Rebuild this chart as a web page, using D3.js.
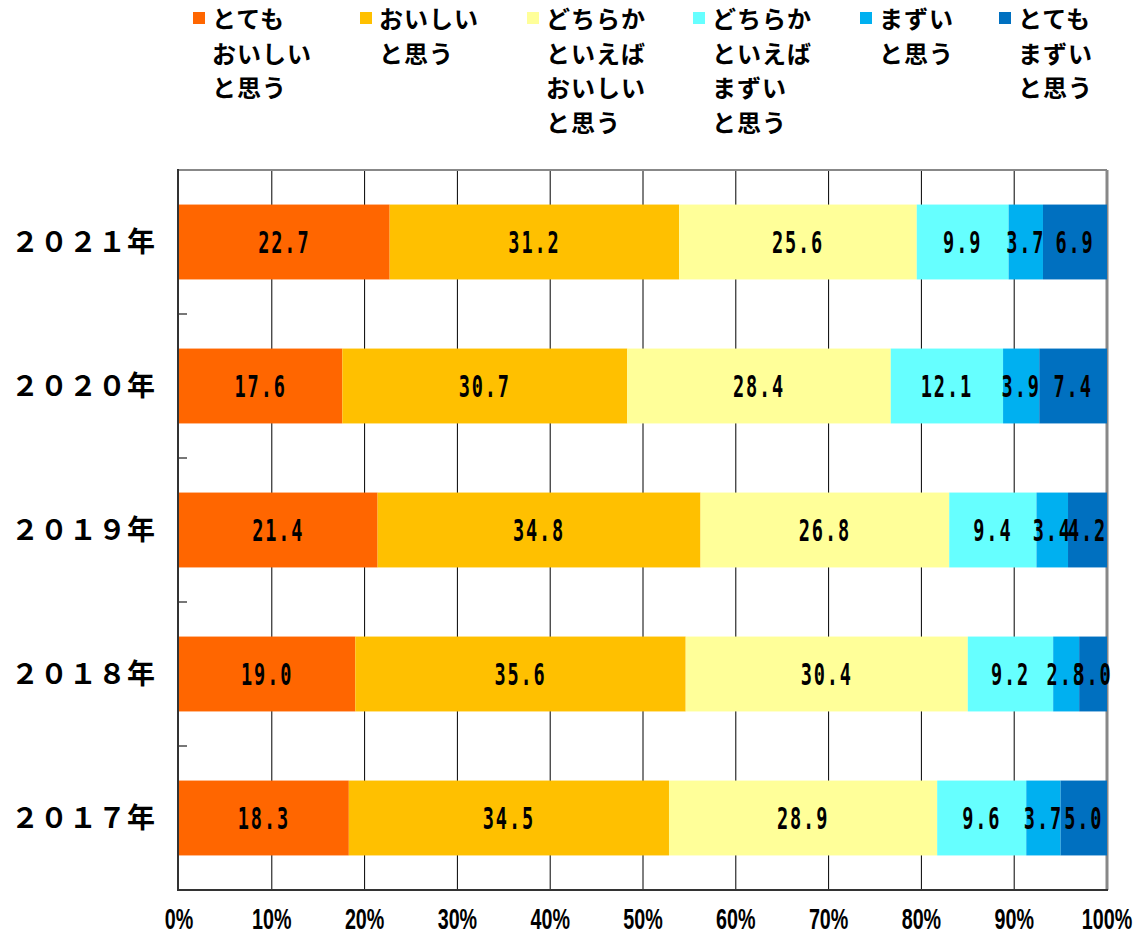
<!DOCTYPE html>
<html>
<head>
<meta charset="utf-8">
<script src="https://cdn.jsdelivr.net/npm/d3@7"></script>
<style>
  html, body { margin: 0; padding: 0; background: #fff; }
  svg { display: block; }
</style>
</head>
<body>
<svg id="chart" width="1135" height="935"></svg>
<script>
// Survey years, top to bottom
const years = ["２０２１年", "２０２０年", "２０１９年", "２０１８年", "２０１７年"];

// Answer categories (legend lines split per row)
const seriesNames = [
  ["とても", "おいしい", "と思う"],
  ["おいしい", "と思う"],
  ["どちらか", "といえば", "おいしい", "と思う"],
  ["どちらか", "といえば", "まずい", "と思う"],
  ["まずい", "と思う"],
  ["とても", "まずい", "と思う"]
];
const seriesColors = ["#FF6600", "#FFC000", "#FFFF99", "#66FFFF", "#00B0F0", "#0070C0"];

// Share of answers (%) per year, one array per category
const veryTasty     = [22.7, 17.6, 21.4, 19.0, 18.3];
const tasty         = [31.2, 30.7, 34.8, 35.6, 34.5];
const ratherTasty   = [25.6, 28.4, 26.8, 30.4, 28.9];
const ratherBad     = [9.9, 12.1, 9.4, 9.2, 9.6];
const bad           = [3.7, 3.9, 3.4, 2.8, 3.7];
const veryBad       = [6.9, 7.4, 4.2, 3.0, 5.0];
const seriesValues = [veryTasty, tasty, ratherTasty, ratherBad, bad, veryBad];

// Axis ticks
const xTicks = [0, 10, 20, 30, 40, 50, 60, 70, 80, 90, 100];
const xTickLabels = ["0%", "10%", "20%", "30%", "40%", "50%", "60%", "70%", "80%", "90%", "100%"];

const svg = d3.select("#chart");
const plot = { left: 179, right: 1107, top: 170, bottom: 890 };

const x = d3.scaleLinear().domain([0, 100]).range([plot.left, plot.right]);
const y = d3.scaleBand().domain(years).range([plot.top, plot.bottom]).paddingInner(0.48).paddingOuter(0.24);

// Vertical gridlines
svg.append("g").selectAll("line")
  .data(xTicks.slice(1, -1))
  .join("line")
  .attr("x1", d => x(d)).attr("x2", d => x(d))
  .attr("y1", plot.top).attr("y2", plot.bottom)
  .attr("stroke", "#000").attr("stroke-width", 1);

// Plot frame: top and right in gray
svg.append("line").attr("x1", plot.left).attr("x2", plot.right)
  .attr("y1", plot.top).attr("y2", plot.top)
  .attr("stroke", "#888").attr("stroke-width", 2);
svg.append("line").attr("x1", plot.right).attr("x2", plot.right)
  .attr("y1", plot.top).attr("y2", plot.bottom)
  .attr("stroke", "#888").attr("stroke-width", 3);

// Stack the series
const rows = years.map((yr, i) => {
  const r = { year: yr };
  seriesValues.forEach((arr, k) => { r["s" + k] = arr[i]; });
  return r;
});
const keys = seriesValues.map((_, k) => "s" + k);
const stacked = d3.stack().keys(keys)(rows);

const layers = svg.append("g").selectAll("g")
  .data(stacked)
  .join("g")
  .attr("fill", (d, k) => seriesColors[k]);

layers.selectAll("rect")
  .data(d => d)
  .join("rect")
  .attr("x", d => x(d[0]))
  .attr("width", d => x(Math.min(d[1], 100)) - x(d[0]))
  .attr("y", d => y(d.data.year))
  .attr("height", y.bandwidth());

// Value labels, centred in each segment, narrow monospaced digits
const labelG = svg.append("g");
stacked.forEach((layer, k) => {
  layer.forEach(d => {
    const cx = (x(d[0]) + x(Math.min(d[1], 100))) / 2;
    const cy = y(d.data.year) + y.bandwidth() / 2;
    labelG.append("text")
      .attr("transform", `translate(${cx},${cy + 11}) scale(0.62,1)`)
      .attr("text-anchor", "middle")
      .attr("font-family", "'DejaVu Sans Mono', monospace")
      .attr("font-weight", "bold")
      .attr("font-size", 30)
      .attr("letter-spacing", 3)
      .attr("fill", "#000")
      .text(d3.format(".1f")(d.data["s" + k]));
  });
});

// Left axis line with inward ticks between categories
svg.append("line").attr("x1", plot.left - 1).attr("x2", plot.left - 1)
  .attr("y1", plot.top - 1).attr("y2", plot.bottom + 1)
  .attr("stroke", "#333").attr("stroke-width", 2);
const step = y.step();
const bounds = d3.range(1, years.length).map(i => plot.top + i * step);
svg.append("g").selectAll("line")
  .data(bounds)
  .join("line")
  .attr("x1", plot.left).attr("x2", plot.left + 8)
  .attr("y1", d => d).attr("y2", d => d)
  .attr("stroke", "#777").attr("stroke-width", 2);

// Bottom axis line
svg.append("line").attr("x1", plot.left - 2).attr("x2", plot.right + 1)
  .attr("y1", plot.bottom).attr("y2", plot.bottom)
  .attr("stroke", "#333").attr("stroke-width", 2);

// Category labels
svg.append("g").selectAll("text")
  .data(years)
  .join("text")
  .attr("x", 156)
  .attr("y", d => y(d) + y.bandwidth() / 2 + 10)
  .attr("text-anchor", "end")
  .attr("font-family", "'Noto Sans CJK JP', sans-serif")
  .attr("font-weight", "bold")
  .attr("font-size", 28)
  .attr("letter-spacing", 1)
  .attr("fill", "#000")
  .text(d => d);

// X tick labels, condensed
svg.append("g").selectAll("text")
  .data(xTicks)
  .join("text")
  .attr("transform", (d) => `translate(${x(d)},929) scale(0.68,1)`)
  .attr("text-anchor", "middle")
  .attr("font-family", "'Liberation Sans', Arial, sans-serif")
  .attr("font-weight", "bold")
  .attr("font-size", 29)
  .attr("fill", "#000")
  .text((d, i) => xTickLabels[i]);

// Legend across the top
const legendX = [193, 360, 527, 693, 860, 999];
const legend = svg.append("g").selectAll("g")
  .data(seriesNames)
  .join("g")
  .attr("transform", (d, i) => `translate(${legendX[i]},0)`);
legend.append("rect")
  .attr("x", 0).attr("y", 12).attr("width", 12).attr("height", 12)
  .attr("fill", (d, i) => seriesColors[i]);
legend.each(function (lines) {
  const t = d3.select(this).append("text")
    .attr("font-family", "'Noto Sans CJK JP', sans-serif")
    .attr("font-weight", "bold")
    .attr("font-size", 24)
    .attr("letter-spacing", 1)
    .attr("fill", "#000");
  lines.forEach((ln, j) => {
    t.append("tspan").attr("x", 19).attr("y", 28 + j * 34.7).text(ln);
  });
});
</script>
</body>
</html>
